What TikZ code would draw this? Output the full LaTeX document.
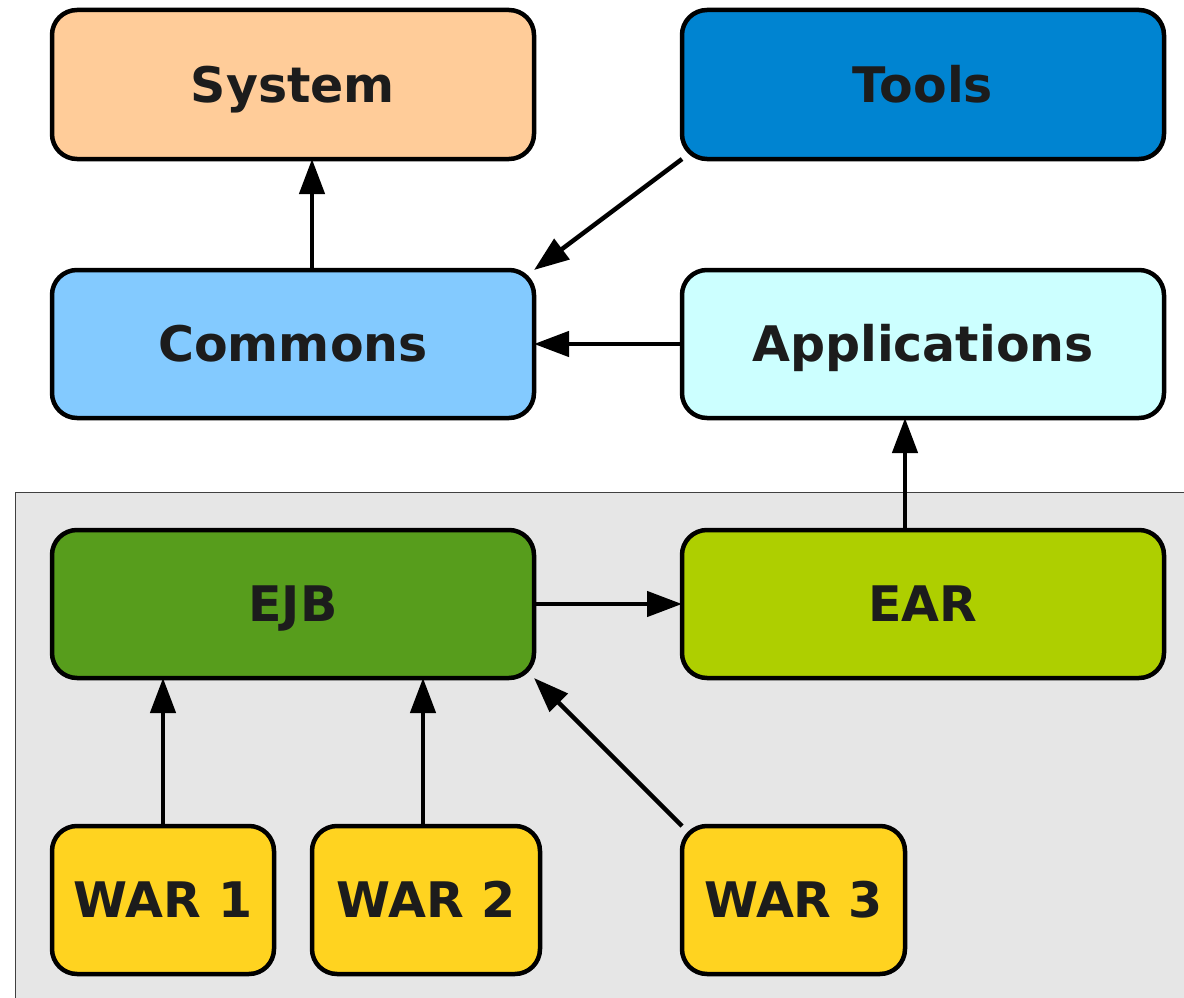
\documentclass[tikz,border=0pt]{standalone}
\usepackage{fontspec}
\setmainfont{DejaVu Sans}
\usetikzlibrary{arrows.meta}
\definecolor{sysc}{HTML}{FFCC99}
\definecolor{toolc}{HTML}{0084D1}
\definecolor{comc}{HTML}{83CAFF}
\definecolor{appc}{HTML}{CCFFFF}
\definecolor{ejbc}{HTML}{579D1C}
\definecolor{earc}{HTML}{AECF00}
\definecolor{warc}{HTML}{FFD320}
\definecolor{bgc}{HTML}{E6E6E6}
\definecolor{txtc}{HTML}{1C1C1C}
\tikzset{
  box/.style={draw=black, line width=4.5pt, rounded corners=25pt, anchor=north west,
    inner sep=0pt, outer sep=0pt, text=txtc, text height=35.7pt, text depth=0pt,
    font=\fontsize{49}{58}\selectfont\bfseries},
  conn/.style={line width=4.5pt, -{Triangle[length=35pt,width=25pt]}},
}
\begin{document}
\begin{tikzpicture}[x=1pt,y=-1pt]
\useasboundingbox (0,0) rectangle (1184,998);
\fill[bgc] (15,492) rectangle (1200,1010);
\draw[line width=1pt, draw=black!75] (15,1010) -- (15,492) -- (1200,492);
\node[box, fill=sysc, minimum width=482pt, minimum height=149pt] (sys) at (52,10) {System};
\node[box, fill=toolc, minimum width=482pt, minimum height=149pt] (tools) at (682,10) {Tools};
\node[box, fill=comc, minimum width=482pt, minimum height=148pt] (com) at (52,270) {Commons};
\node[box, fill=appc, minimum width=482pt, minimum height=148pt] (app) at (682,270) {Applications};
\node[box, fill=ejbc, minimum width=482pt, minimum height=148pt] (ejb) at (52,530) {EJB};
\node[box, fill=earc, minimum width=482pt, minimum height=148pt] (ear) at (682,530) {EAR};
\node[box, fill=warc, minimum width=222pt, minimum height=148pt] (w1) at (52,826) {WAR 1};
\node[box, fill=warc, minimum width=228pt, minimum height=148pt] (w2) at (312,826) {WAR 2};
\node[box, fill=warc, minimum width=223pt, minimum height=148pt] (w3) at (682,826) {WAR 3};
\draw[conn] ([xshift=260pt]com.north west) -- ([xshift=260pt]sys.south west);
\draw[conn] (tools.south west) -- (com.north east);
\draw[conn] (app.west) -- (com.east);
\draw[conn] ([xshift=223pt]ear.north west) -- ([xshift=223pt]app.south west);
\draw[conn] (ejb.east) -- (ear.west);
\draw[conn] (w1.north) -- ([xshift=111pt]ejb.south west);
\draw[conn] ([xshift=111pt]w2.north west) -- ([xshift=371pt]ejb.south west);
\draw[conn] (w3.north west) -- (ejb.south east);
\end{tikzpicture}
\end{document}
